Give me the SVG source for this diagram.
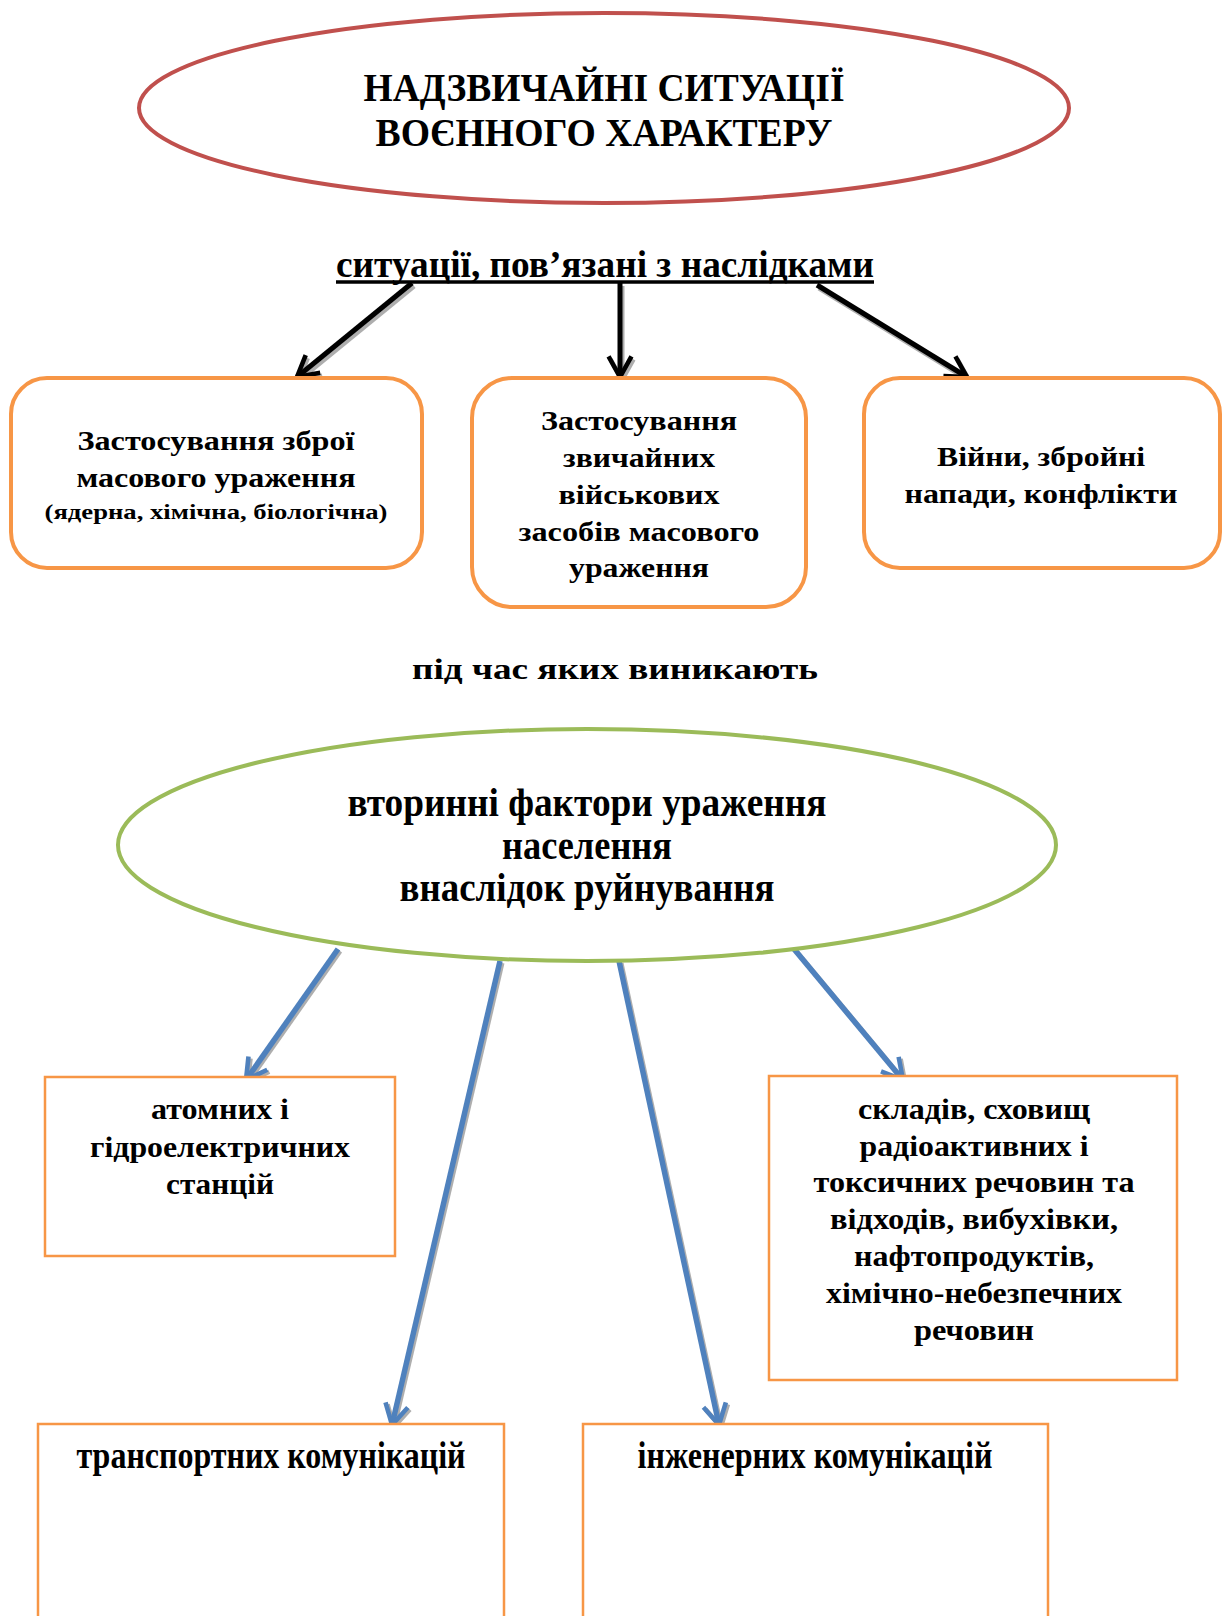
<svg xmlns="http://www.w3.org/2000/svg" width="1229" height="1616" viewBox="0 0 1229 1616">
<style>
text{font-family:"Liberation Serif","Times New Roman",serif;font-weight:bold;fill:#000;text-anchor:middle}
.t{font-size:41px}
.s{font-size:38px}
.b{font-size:28px}
.sm{font-size:22px}
.g{font-size:40px}
.m{font-size:30px}
.c{font-size:38px}
.rr{fill:#fff;stroke:#F79646;stroke-width:4}
.rc{fill:#fff;stroke:#F79646;stroke-width:2.5}
.blk{stroke:#000;stroke-width:5;fill:none}
.blu{stroke:#4F81BD;stroke-width:5.5;fill:none}
.sh{stroke:#9a9a9a;stroke-width:5;fill:none;opacity:0.8}
</style>
<defs>
<marker id="ah" viewBox="0 0 12 12" refX="10" refY="6" markerWidth="5.5" markerHeight="5.5" orient="auto" markerUnits="strokeWidth">
<path d="M1,1 L10,6 L1,11" fill="none" stroke="#000" stroke-width="2"/>
</marker>
<marker id="ahb" viewBox="0 0 12 12" refX="10" refY="6" markerWidth="5" markerHeight="5" orient="auto" markerUnits="strokeWidth">
<path d="M1,1 L10,6 L1,11" fill="none" stroke="#4F81BD" stroke-width="2"/>
</marker>
<marker id="ahs" viewBox="0 0 12 12" refX="10" refY="6" markerWidth="5.5" markerHeight="5.5" orient="auto" markerUnits="strokeWidth">
<path d="M1,1 L10,6 L1,11" fill="none" stroke="#9a9a9a" stroke-width="2"/>
</marker>
</defs>
<rect width="1229" height="1616" fill="#fff"/>

<g id="title">
<ellipse cx="604" cy="108" rx="465" ry="95" fill="#fff" stroke="#C0504D" stroke-width="4"/>
<text class="t" x="604" y="101" textLength="481" lengthAdjust="spacingAndGlyphs">НАДЗВИЧАЙНІ СИТУАЦІЇ</text>
<text class="t" x="604" y="146" textLength="457" lengthAdjust="spacingAndGlyphs">ВОЄННОГО ХАРАКТЕРУ</text>
</g>

<g id="subtitle">
<text class="s" x="605" y="277" textLength="538" lengthAdjust="spacingAndGlyphs">ситуації, пов’язані з наслідками</text>
<line x1="336" y1="282" x2="874" y2="282" stroke="#000" stroke-width="3.5"/>
</g>

<g id="connectors">
<line class="sh" x1="414" y1="286" x2="299" y2="380" marker-end="url(#ahs)"/>
<line class="sh" x1="622" y1="286" x2="622" y2="380" marker-end="url(#ahs)"/>
<line class="sh" x1="819" y1="288" x2="969" y2="380" marker-end="url(#ahs)"/>
<line class="blk" x1="412" y1="283" x2="297" y2="377" marker-end="url(#ah)"/>
<line class="blk" x1="620" y1="283" x2="620" y2="377" marker-end="url(#ah)"/>
<line class="blk" x1="817" y1="285" x2="967" y2="377" marker-end="url(#ah)"/>
<line class="sh" x1="340" y1="951" x2="248" y2="1082" marker-end="url(#ahs)"/>
<line class="sh" x1="502" y1="963" x2="394" y2="1427" marker-end="url(#ahs)"/>
<line class="sh" x1="621" y1="963" x2="721" y2="1427" marker-end="url(#ahs)"/>
<line class="sh" x1="796" y1="951" x2="905" y2="1082" marker-end="url(#ahs)"/>
<line class="blu" x1="338" y1="949" x2="246" y2="1080" marker-end="url(#ahb)"/>
<line class="blu" x1="500" y1="961" x2="392" y2="1425" marker-end="url(#ahb)"/>
<line class="blu" x1="619" y1="961" x2="719" y2="1425" marker-end="url(#ahb)"/>
<line class="blu" x1="794" y1="949" x2="903" y2="1080" marker-end="url(#ahb)"/>
</g>

<g id="box1">
<rect class="rr" x="11" y="378" width="411" height="190" rx="36"/>
<text class="b" x="216" y="450" textLength="277" lengthAdjust="spacingAndGlyphs">Застосування зброї</text>
<text class="b" x="216" y="487" textLength="279" lengthAdjust="spacingAndGlyphs">масового ураження</text>
<text class="sm" x="216" y="519" textLength="343" lengthAdjust="spacingAndGlyphs">(ядерна, хімічна, біологічна)</text>
</g>

<g id="box2">
<rect class="rr" x="472" y="378" width="334" height="229" rx="40"/>
<text class="b" x="639" y="430" textLength="196" lengthAdjust="spacingAndGlyphs">Застосування</text>
<text class="b" x="639" y="467" textLength="152" lengthAdjust="spacingAndGlyphs">звичайних</text>
<text class="b" x="639" y="504" textLength="161" lengthAdjust="spacingAndGlyphs">військових</text>
<text class="b" x="639" y="541" textLength="241" lengthAdjust="spacingAndGlyphs">засобів масового</text>
<text class="b" x="639" y="577" textLength="140" lengthAdjust="spacingAndGlyphs">ураження</text>
</g>

<g id="box3">
<rect class="rr" x="864" y="378" width="356" height="190" rx="36"/>
<text class="b" x="1041" y="466" textLength="208" lengthAdjust="spacingAndGlyphs">Війни, збройні</text>
<text class="b" x="1041" y="503" textLength="273" lengthAdjust="spacingAndGlyphs">напади, конфлікти</text>
</g>

<g id="label-mid">
<text class="m" x="615" y="679" textLength="406" lengthAdjust="spacingAndGlyphs">під час яких виникають</text>
</g>

<g id="secondary">
<ellipse cx="587" cy="845" rx="469" ry="116" fill="#fff" stroke="#9BBB59" stroke-width="4"/>
<text class="g" x="587" y="816" textLength="479" lengthAdjust="spacingAndGlyphs">вторинні фактори ураження</text>
<text class="g" x="587" y="859" textLength="170" lengthAdjust="spacingAndGlyphs">населення</text>
<text class="g" x="587" y="901" textLength="375" lengthAdjust="spacingAndGlyphs">внаслідок руйнування</text>
</g>

<g id="boxA">
<rect class="rc" x="45" y="1077" width="350" height="179"/>
<text class="m" x="220" y="1119" textLength="138" lengthAdjust="spacingAndGlyphs">атомних і</text>
<text class="m" x="220" y="1157" textLength="260" lengthAdjust="spacingAndGlyphs">гідроелектричних</text>
<text class="m" x="220" y="1194" textLength="108" lengthAdjust="spacingAndGlyphs">станцій</text>
</g>

<g id="boxB">
<rect class="rc" x="769" y="1076" width="408" height="304"/>
<text class="m" x="974" y="1119" textLength="232" lengthAdjust="spacingAndGlyphs">складів, сховищ</text>
<text class="m" x="974" y="1156" textLength="229" lengthAdjust="spacingAndGlyphs">радіоактивних і</text>
<text class="m" x="974" y="1192" textLength="321" lengthAdjust="spacingAndGlyphs">токсичних речовин та</text>
<text class="m" x="974" y="1229" textLength="288" lengthAdjust="spacingAndGlyphs">відходів, вибухівки,</text>
<text class="m" x="974" y="1266" textLength="240" lengthAdjust="spacingAndGlyphs">нафтопродуктів,</text>
<text class="m" x="974" y="1303" textLength="296" lengthAdjust="spacingAndGlyphs">хімічно-небезпечних</text>
<text class="m" x="974" y="1340" textLength="120" lengthAdjust="spacingAndGlyphs">речовин</text>
</g>

<g id="boxC">
<rect class="rc" x="38" y="1424" width="466" height="210"/>
<text class="c" x="271" y="1468" textLength="389" lengthAdjust="spacingAndGlyphs">транспортних комунікацій</text>
</g>

<g id="boxD">
<rect class="rc" x="583" y="1424" width="465" height="210"/>
<text class="c" x="815" y="1468" textLength="355" lengthAdjust="spacingAndGlyphs">інженерних комунікацій</text>
</g>
</svg>
